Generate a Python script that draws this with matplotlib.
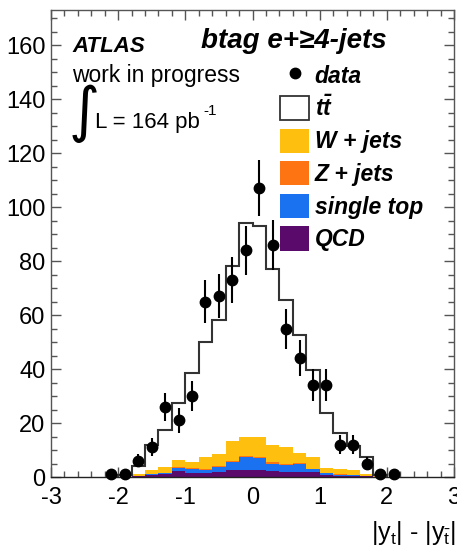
import numpy as np
import matplotlib
matplotlib.use("Agg")
import matplotlib.pyplot as plt
from matplotlib.patches import Patch
from matplotlib.lines import Line2D
from matplotlib.ticker import MultipleLocator

plt.rcParams['font.family'] = ['Liberation Sans', 'DejaVu Sans']
plt.rcParams['axes.unicode_minus'] = False
plt.rcParams['mathtext.fontset'] = 'custom'
plt.rcParams['mathtext.rm'] = 'Liberation Sans'
plt.rcParams['mathtext.it'] = 'Liberation Sans:italic'
plt.rcParams['mathtext.bf'] = 'Liberation Sans:bold:italic'

# binning of |y_t| - |y_tbar|
bin_edges = np.round(np.arange(-2.0, 2.0001, 0.2), 2)

# stacked backgrounds (events per bin)
qcd = [0.0, 0.3, 0.8, 1.0, 2.2, 1.6, 1.5, 2.0, 2.5, 2.6,
       2.6, 2.3, 2.0, 2.0, 1.7, 0.6, 0.5, 0.3, 0.2, 0.0]
single_top = [0.0, 0.1, 0.3, 0.4, 1.3, 1.4, 1.1, 1.8, 3.0, 4.7,
              4.3, 2.7, 2.4, 2.8, 1.1, 0.8, 0.4, 0.3, 0.1, 0.0]
z_jets = [0.0, 0.05, 0.1, 0.1, 0.3, 0.3, 0.3, 0.3, 0.4, 0.4,
          0.4, 0.4, 0.3, 0.3, 0.3, 0.2, 0.1, 0.1, 0.05, 0.0]
w_jets = [0.25, 0.55, 1.3, 2.3, 2.6, 2.4, 4.4, 4.4, 7.6, 7.0,
          7.4, 6.5, 6.3, 3.7, 4.2, 1.6, 1.8, 1.8, 0.65, 0.2]
ttbar = [0.35, 3.2, 9.3, 13.6, 21.1, 32.8, 42.7, 49.5, 64.5, 79.3,
         78.3, 65.1, 54.5, 43.8, 32.3, 20.6, 13.6, 9.0, 6.5, 0.6]

# observed data
data_x = np.round(np.arange(-2.1, 2.1001, 0.2), 2)
data_y = [1, 1, 6, 11, 26, 21, 30, 65, 67, 73, 84,
          107, 86, 55, 44, 34, 34, 12, 12, 5, 1, 1]

colors = {
    'qcd': '#5a0a6a',
    'stop': '#1a72f0',
    'z': '#ff7412',
    'w': '#ffbf0f',
}

fig = plt.figure(figsize=(4.57, 5.47), dpi=100)
ax = fig.add_axes([51 / 457, 70 / 547, 403 / 457, 467 / 547])

# stacked histogram
layers = [(qcd, colors['qcd']), (single_top, colors['stop']),
          (z_jets, colors['z']), (w_jets, colors['w'])]
bottom = np.zeros(len(bin_edges) - 1)
for vals, col in layers:
    vals = np.asarray(vals, dtype=float)
    ax.stairs(bottom + vals, bin_edges, baseline=bottom, fill=True,
              color=col, lw=0, zorder=2)
    bottom = bottom + vals
total = bottom + np.asarray(ttbar)
ax.stairs(total, bin_edges, baseline=bottom, fill=True, color='white',
          lw=0, zorder=2)
ax.stairs(total, bin_edges, baseline=0, fill=False, color='#333333',
          lw=1.5, zorder=3)

# data points with Poisson errors
data_y = np.asarray(data_y, dtype=float)
ax.errorbar(data_x, data_y, yerr=np.sqrt(data_y), fmt='o', color='black',
            ms=7.5, elinewidth=1.5, capsize=0, zorder=5, clip_on=False)

ax.set_xlim(-3, 3)
ax.set_ylim(0, 173)
ax.xaxis.set_major_locator(MultipleLocator(1))
ax.xaxis.set_minor_locator(MultipleLocator(0.2))
ax.yaxis.set_major_locator(MultipleLocator(20))
ax.yaxis.set_minor_locator(MultipleLocator(5))
ax.tick_params(which='both', direction='in', top=True, right=True,
               color='#555555', width=1.0)
ax.tick_params(which='major', length=7.5)
ax.tick_params(which='minor', length=4.5)
ax.tick_params(axis='x', which='major', labelsize=17, pad=7)
ax.tick_params(axis='y', which='major', labelsize=17, pad=4)
for s in ax.spines.values():
    s.set_color('#555555')
    s.set_linewidth(1.0)
ax.spines['bottom'].set_color('#222222')

# annotation texts
ax.text(0.052, 0.910, 'ATLAS', transform=ax.transAxes, fontsize=16,
        fontweight='bold', fontstyle='italic', va='baseline', ha='left')
ax.text(0.834, 0.919, 'btag e+\u22654-jets', transform=ax.transAxes,
        fontsize=20, fontweight='bold', fontstyle='italic',
        va='baseline', ha='right')
ax.text(0.052, 0.846, 'work in progress', transform=ax.transAxes,
        fontsize=16.5, va='baseline', ha='left')
ax.text(0.043, 0.742, '\u222b', transform=ax.transAxes, fontsize=43,
        family='DejaVu Sans', va='baseline', ha='left')
ax.text(0.109, 0.747, 'L = 164 pb', transform=ax.transAxes, fontsize=16,
        va='baseline', ha='left')
ax.text(0.378, 0.775, '-1', transform=ax.transAxes, fontsize=11,
        va='baseline', ha='left')

# legend
handles = [
    Line2D([], [], marker='o', ls='none', color='black', ms=7.5),
    Patch(facecolor='white', edgecolor='#333333', lw=1.3),
    Patch(facecolor=colors['w'], edgecolor='none'),
    Patch(facecolor=colors['z'], edgecolor='none'),
    Patch(facecolor=colors['stop'], edgecolor='none'),
    Patch(facecolor=colors['qcd'], edgecolor='none'),
]
labels = ['data', r'$\mathbf{t\bar{t}}$', 'W + jets', 'Z + jets',
          'single top', 'QCD']
leg = ax.legend(handles, labels, loc='upper left',
                bbox_to_anchor=((280 - 51) / 403, (477 - 63) / 467),
                frameon=False, borderpad=0, borderaxespad=0,
                handlelength=1.27, handleheight=1.25, handletextpad=0.25,
                labelspacing=0.34,
                prop={'size': 16.5, 'weight': 'bold', 'style': 'italic'})

ax.text(1.005, -0.090,
        r'$\mathregular{|y_t|}$ - $\mathregular{|y_{\bar{t}}|}$',
        transform=ax.transAxes, fontsize=18, ha='right', va='top')

fig.savefig('out.png', dpi=100)
